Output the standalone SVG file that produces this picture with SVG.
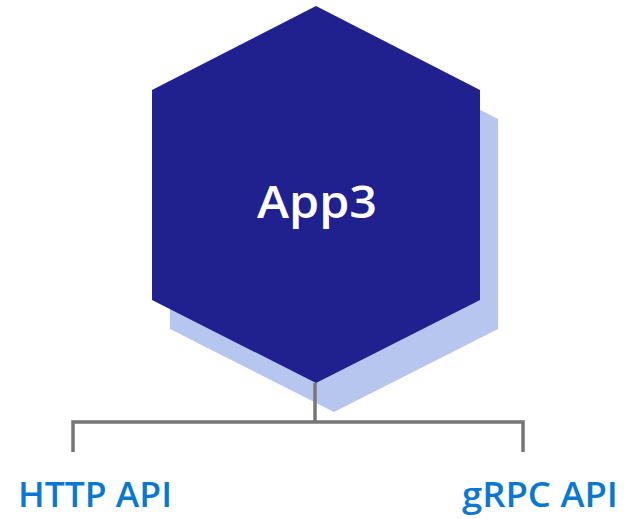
<svg xmlns="http://www.w3.org/2000/svg" width="627" height="519" viewBox="0 0 627 519">
  <style>
    .hex { fill: #20208F; }
    .hex-shadow { fill: #B6C6EE; }
    .title { font-family: "Open Sans", "Noto Sans", sans-serif; font-weight: 600; font-size: 45px; fill: #FFFFFF; }
    .label { font-family: "Open Sans", "Noto Sans", sans-serif; font-weight: 600; font-size: 35px; fill: #0A78D2; }
    .wire { fill: none; stroke: #767676; stroke-width: 3.5; stroke-linecap: butt; stroke-linejoin: miter; }
  </style>

  <!-- Service hexagon with offset shadow -->
  <g id="app3">
    <polygon class="hex-shadow" points="334,35 498,119 498,329 334,412 170,329 170,119"/>
    <polygon class="hex" points="316,6 480,90 480,300 316,383 152,300 152,90"/>
    <text class="title" x="257" y="218" textLength="120" lengthAdjust="spacingAndGlyphs">App3</text>
  </g>

  <!-- Branch lines from the service to its APIs -->
  <g id="connectors">
    <path class="wire" d="M315,383 V422"/>
    <path class="wire" d="M73,452 V422 H523 V452"/>
  </g>

  <g id="http-api">
    <text class="label" x="18" y="507" textLength="154" lengthAdjust="spacingAndGlyphs">HTTP API</text>
  </g>

  <g id="grpc-api">
    <text class="label" x="462" y="507" textLength="156" lengthAdjust="spacingAndGlyphs">gRPC API</text>
  </g>
</svg>
